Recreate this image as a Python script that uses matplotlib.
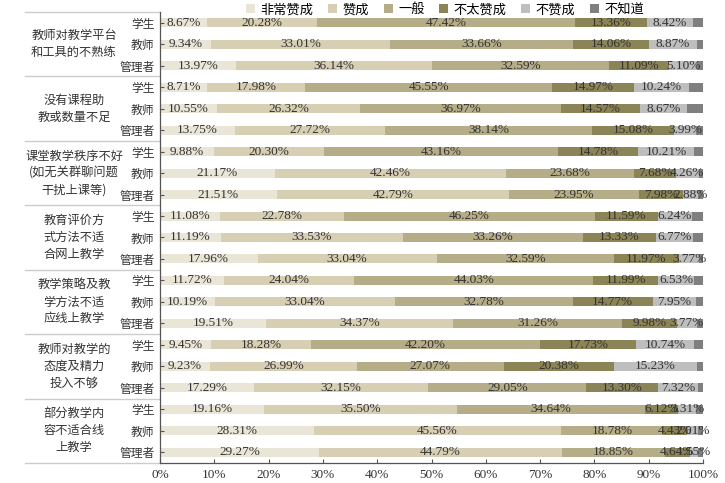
import matplotlib
matplotlib.use("Agg")
import matplotlib.pyplot as plt
from matplotlib.patches import Patch
import numpy as np

plt.rcParams['font.family'] = ['Liberation Serif', 'Noto Sans CJK SC', 'DejaVu Sans']

categories = ["非常赞成", "赞成", "一般", "不太赞成", "不赞成", "不知道"]
roles = ["学生", "教师", "管理者"]
group_labels = [
    "教师对教学平台\n和工具的不熟练",
    "没有课程助\n教或数量不足",
    "课堂教学秩序不好\n(如无关群聊问题\n干扰上课等)",
    "教育评价方\n式方法不适\n合网上教学",
    "教学策略及教\n学方法不适\n应线上教学",
    "教师对教学的\n态度及精力\n投入不够",
    "部分教学内\n容不适合线\n上教学",
]

very_agree = [8.67, 9.34, 13.97, 8.71, 10.55, 13.75, 9.88, 21.17, 21.51,
              11.08, 11.19, 17.96, 11.72, 10.19, 19.51, 9.45, 9.23, 17.29,
              19.16, 28.31, 29.27]
agree = [20.28, 33.01, 36.14, 17.98, 26.32, 27.72, 20.30, 42.46, 42.79,
         22.78, 33.53, 33.04, 24.04, 33.04, 34.37, 18.28, 26.99, 32.15,
         35.50, 45.56, 44.79]
neutral = [47.42, 33.66, 32.59, 45.55, 36.97, 38.14, 43.16, 23.68, 23.95,
           46.25, 33.26, 32.59, 44.03, 32.78, 31.26, 42.20, 27.07, 29.05,
           34.64, 18.78, 18.85]
somewhat_disagree = [13.36, 14.06, 11.09, 14.97, 14.57, 15.08, 14.78, 7.68, 7.98,
                     11.59, 13.33, 11.97, 11.99, 14.77, 9.98, 17.73, 20.38, 13.30,
                     6.12, 4.43, 4.64]
disagree = [8.42, 8.87, 5.10, 10.24, 8.67, 3.99, 10.21, 4.26, 2.88,
            6.24, 6.77, 3.77, 6.53, 7.95, 3.77, 10.74, 15.23, 7.32,
            3.31, 2.01, 1.55]
unknown = [1.85, 1.06, 1.11, 2.55, 2.92, 1.32, 1.67, 0.75, 0.89,
           2.06, 1.92, 0.67, 1.69, 1.27, 1.11, 1.60, 1.10, 0.89,
           1.27, 0.91, 0.90]

series = [very_agree, agree, neutral, somewhat_disagree, disagree, unknown]
colors = ["#e9e5d7", "#d6cfb4", "#b5ad88", "#8b8456", "#bebebe", "#7f7f7f"]
show_label = [True, True, True, True, True, False]

fig = plt.figure(figsize=(7.25, 4.83), dpi=100)
ax = fig.add_axes([160/725, 20/483, 543/725, (463-12)/483])

n = len(very_agree)
y = np.arange(n)
left = np.zeros(n)
for vals, col, lab in zip(series, colors, show_label):
    vals = np.array(vals)
    ax.barh(y, vals, left=left, height=0.42, color=col, edgecolor='none')
    if lab:
        for yi, l, v in zip(y, left, vals):
            ax.text(l + v/2, yi, f"{v:.2f}%", ha='center', va='center',
                    fontsize=9.5, color='#333333')
    left = left + vals

ax.set_xlim(0, 100)
ax.set_ylim(n - 0.5, -0.5)
ax.set_xticks(np.arange(0, 101, 10))
ax.set_xticklabels([f"{t}%" for t in range(0, 101, 10)], fontsize=9.5, color='#333333')
ax.set_yticks(y)
ax.set_yticklabels(roles * len(group_labels), fontsize=8.5, color='#333333',
                   family=['Noto Sans CJK SC'])
ax.tick_params(axis='both', direction='in', length=3, color='#555555', width=0.8)
ax.tick_params(axis='y', pad=4)
ax.tick_params(axis='x', pad=4)
for s in ['top', 'right']:
    ax.spines[s].set_visible(False)
for s in ['left', 'bottom']:
    ax.spines[s].set_color('#555555')
    ax.spines[s].set_linewidth(0.9)

trans = matplotlib.transforms.blended_transform_factory(ax.transAxes, ax.transData)
x0 = (25 - 160) / 543
for g in range(len(group_labels) + 1):
    yb = g * 3 - 0.5
    ax.plot([x0, 0], [yb, yb], transform=trans, color='#cccccc', lw=1.0,
            clip_on=False)
xc = (74 - 160) / 543
for g, gl in enumerate(group_labels):
    ax.text(xc, g * 3 + 1, gl, transform=trans, ha='center', va='center',
            multialignment='center', fontsize=8.8, color='#333333',
            family=['Noto Sans CJK SC', 'DejaVu Sans'], fontweight='light',
            linespacing=1.4)

handles = [Patch(facecolor=c, edgecolor='none') for c in colors]
fig.legend(handles, categories, loc='upper center', bbox_to_anchor=(0.614, 1.018),
           ncol=6, frameon=False, handlelength=0.7, handleheight=0.7,
           handletextpad=0.4, columnspacing=1.1,
           prop={'family': ['Noto Sans CJK SC'], 'size': 9.5, 'weight': 'light'})

fig.savefig("out.png", dpi=100)
